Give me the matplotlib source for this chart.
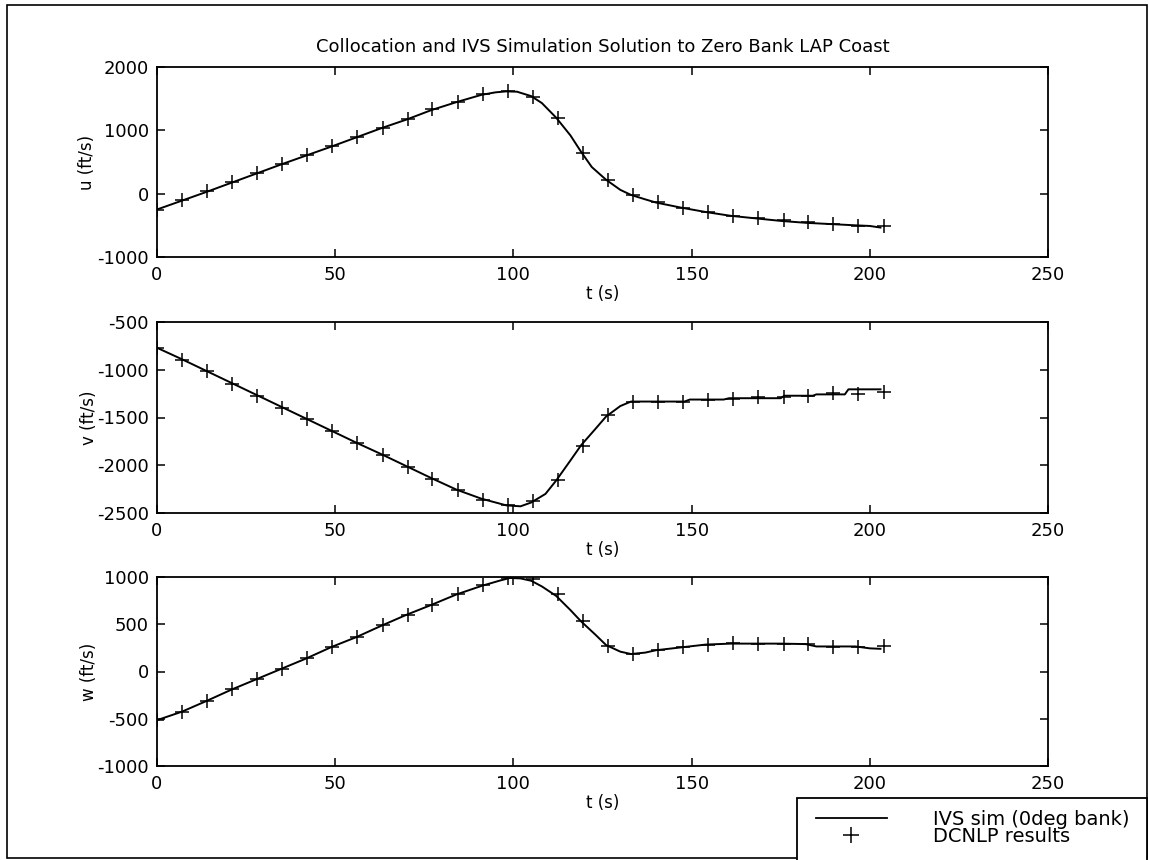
import matplotlib
matplotlib.use("Agg")
import matplotlib.pyplot as plt
from matplotlib.patches import Rectangle
from matplotlib.lines import Line2D

plt.rcParams['font.family'] = ['DejaVu Sans']
plt.rcParams['axes.unicode_minus'] = False

# --- IVS simulation trajectories (time in s, velocities in ft/s) ---
t_u_sim = [0, 7, 14, 21, 28, 35, 42, 49, 56, 63, 70, 77, 84, 91, 95, 98, 101,
           105, 108, 112, 116, 119, 122, 126, 130, 133, 137, 140, 147, 154,
           161, 168, 175, 182, 189, 196, 200, 203]
u_sim = [-250, -110, 30, 175, 320, 465, 605, 745, 890, 1035, 1170, 1320, 1445,
         1560, 1600, 1615, 1610, 1540, 1430, 1200, 920, 660, 420, 220, 60, -20,
         -90, -140, -220, -290, -350, -390, -430, -460, -480, -500, -510, -535]

t_v_sim = [0, 7, 14, 21, 28, 35, 42, 49, 56, 63, 70, 77, 84, 91, 98, 102, 105,
           109, 112, 116, 119, 123, 126, 130, 133, 148, 149.5, 159, 160.5, 175,
           176, 184, 185, 193, 194, 203]
v_sim = [-770, -890, -1015, -1140, -1265, -1390, -1515, -1640, -1765, -1885,
         -2010, -2135, -2255, -2350, -2420, -2430, -2390, -2300, -2160, -1950,
         -1790, -1620, -1490, -1380, -1333, -1333, -1312, -1312, -1298, -1298,
         -1272, -1272, -1258, -1258, -1205, -1205]

t_w_sim = [0, 7, 14, 21, 28, 35, 42, 49, 56, 63, 70, 77, 84, 91, 96, 99, 102,
           105, 108, 112, 116, 119, 123, 126, 130, 133, 137, 140, 147, 154,
           161, 168, 175, 182, 185, 196, 200, 203]
w_sim = [-515, -425, -310, -190, -80, 30, 140, 260, 365, 485, 600, 705, 815,
         905, 960, 990, 985, 960, 900, 800, 650, 530, 390, 280, 210, 185, 200,
         225, 255, 285, 295, 295, 295, 290, 265, 265, 245, 240]

# --- DCNLP collocation results ---
t_nodes = [0, 7.0, 14.1, 21.1, 28.1, 35.2, 42.2, 49.2, 56.2, 63.3, 70.3, 77.3,
           84.4, 91.4, 98.4, 105.5, 112.5, 119.5, 126.5, 133.6, 140.6, 147.6,
           154.7, 161.7, 168.7, 175.8, 182.8, 189.8, 196.8, 203.9]
u_nodes = [-254, -95, 37, 185, 328, 471, 608, 751, 894, 1042, 1175, 1333, 1455,
           1571, 1614, 1534, 1190, 646, 211, -16, -138, -227, -296, -360, -386,
           -423, -450, -481, -508, -503]
v_nodes = [-771, -895, -1018, -1147, -1270, -1397, -1519, -1642, -1765, -1888,
           -2018, -2140, -2263, -2361, -2421, -2379, -2158, -1800, -1474, -1340,
           -1333, -1333, -1316, -1309, -1288, -1281, -1274, -1246, -1256, -1228]
w_nodes = [-510, -424, -309, -188, -76, 31, 142, 264, 368, 490, 601, 708, 822,
           917, 986, 979, 822, 531, 271, 188, 229, 257, 281, 299, 292, 292,
           292, 264, 264, 271]

title = "Collocation and IVS Simulation Solution to Zero Bank LAP Coast"
x_ticks = [0, 50, 100, 150, 200, 250]
panels = [
    ("u (ft/s)", t_u_sim, u_sim, u_nodes, (-1000, 2000), [-1000, 0, 1000, 2000]),
    ("v (ft/s)", t_v_sim, v_sim, v_nodes, (-2500, -500),
     [-2500, -2000, -1500, -1000, -500]),
    ("w (ft/s)", t_w_sim, w_sim, w_nodes, (-1000, 1000),
     [-1000, -500, 0, 500, 1000]),
]
legend_labels = ["IVS sim (0deg bank)", "DCNLP results"]

W, H = 1149, 860
fig = plt.figure(figsize=(W / 100, H / 100), dpi=100)

# axes boxes in pixels: (top, bottom)
boxes = [(67, 257), (322, 513), (577, 766)]
left_px, right_px = 157, 1048
ylabel_x = [-0.068, -0.066, -0.066]

for i, (lab, ts, ys, yn, ylim, yt) in enumerate(panels):
    top, bot = boxes[i]
    ax = fig.add_axes([left_px / W, 1 - bot / H, (right_px - left_px) / W,
                       (bot - top) / H])
    ax.plot(ts, ys, color="black", lw=1.4)
    ax.plot(t_nodes, yn, ls="none", marker="+", ms=9.5, mew=1.1,
            color="black")
    ax.set_xlim(0, 250)
    ax.set_ylim(*ylim)
    ax.set_xticks(x_ticks)
    ax.set_yticks(yt)
    ax.tick_params(direction="in", length=6, width=1.1, top=True, right=True,
                   labelsize=13)
    ax.tick_params(axis="x", pad=6.5)
    ax.tick_params(axis="y", pad=6)
    for s in ax.spines.values():
        s.set_linewidth(1.3)
    ax.set_xlabel("t (s)", fontsize=12, labelpad=1)
    ax.set_ylabel(lab, fontsize=12)
    ax.yaxis.set_label_coords(ylabel_x[i], 0.5)
    if i == 0:
        ax.set_title(title, fontsize=13, pad=11)

# outer frame of the figure
fig.add_artist(Rectangle((7 / W, 1 - 858 / H), (1147 - 7) / W, (858 - 5) / H,
                         transform=fig.transFigure, fill=False, lw=1.2,
                         ec="black"))

# legend box
fig.add_artist(Rectangle((797 / W, 1 - 866 / H), (1147 - 797) / W,
                         (866 - 798) / H, transform=fig.transFigure,
                         fill=True, fc="white", lw=1.3, ec="black",
                         clip_on=False, zorder=5))
h_line = Line2D([], [], color="black", lw=1.3)
h_pts = Line2D([], [], ls="none", marker="+", ms=11, mew=1.1, color="black")
leg = fig.legend([h_line, h_pts], legend_labels, loc="upper left",
                 bbox_to_anchor=(816 / W, 1 - 810 / H), frameon=False,
                 borderpad=0, borderaxespad=0, handlelength=3.65,
                 handletextpad=2.37, labelspacing=-0.1, fontsize=14,
                 numpoints=1)
leg.set_zorder(6)

fig.savefig("out.png", dpi=100)
